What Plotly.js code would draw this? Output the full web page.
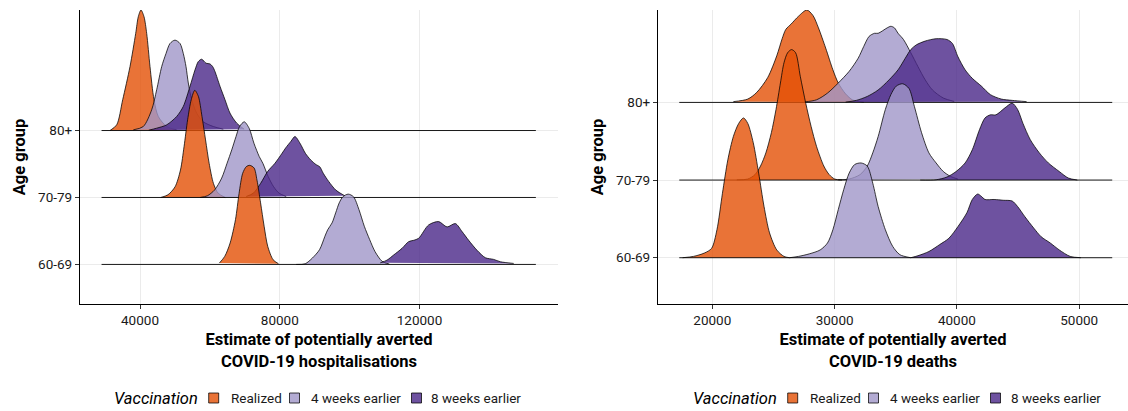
<!DOCTYPE html>
<html>
<head>
<meta charset="utf-8">
<script src="https://cdn.plot.ly/plotly-3.0.1.min.js"></script>
<style>
  html, body { margin: 0; padding: 0; background: #ffffff; }
  #chart { width: 1128px; height: 411px; }
</style>
</head>
<body>
<div id="chart"></div>
<script>
// ---------------- DATA ----------------
const ageGroups = ['60-69', '70-79', '80+'];
const scenarios = ['Realized', '4 weeks earlier', '8 weeks earlier'];
const legendTitle = 'Vaccination';

const hospTicks = [40000, 80000, 120000];
const deathTicks = [20000, 30000, 40000, 50000];

// full extent of every density line (x range of the ridges)
const hospRange = [29000, 153300];
const deathRange = [17300, 52700];

// ---- Hospitalisations: 80+ ----
const hosp80_realized_x = [31414, 33331, 35049, 37138, 38769, 39513, 40286, 41145, 41918, 42862, 44007, 45238, 47642, 50504];
const hosp80_realized_h = [0, 0.085, 0.46, 0.955, 1.45, 1.70, 1.80, 1.70, 1.45, 0.955, 0.46, 0.21, 0.06, 0.01];
const hosp80_4w_x = [38082, 40944, 43349, 44780, 46211, 47441, 48586, 50017, 51448, 52393, 53165, 53824, 54797, 56228, 58117, 60979, 63841];
const hosp80_4w_h = [0.01, 0.06, 0.31, 0.61, 0.955, 1.15, 1.30, 1.35, 1.30, 1.15, 0.955, 0.71, 0.46, 0.26, 0.13, 0.06, 0.02];
const hosp80_8w_x = [42500, 44780, 47640, 50500, 52390, 54310, 55740, 56690, 57660, 58890, 60030, 60800, 61465, 62900, 64330, 65760, 67680, 69800];
const hosp80_8w_h = [0.005, 0.035, 0.085, 0.21, 0.36, 0.66, 0.905, 1.03, 1.065, 1.005, 0.995, 0.955, 0.88, 0.66, 0.46, 0.26, 0.11, 0.02];

// ---- Hospitalisations: 70-79 ----
const hosp70_realized_x = [45940, 47990, 50040, 51580, 52610, 53630, 54660, 55680, 56710, 57740, 58760, 59790, 61020, 62350, 64400];
const hosp70_realized_h = [0, 0.04, 0.16, 0.41, 0.76, 1.16, 1.46, 1.60, 1.51, 1.21, 0.86, 0.51, 0.21, 0.065, 0];
const hosp70_4w_x = [57220, 59270, 61320, 63380, 64910, 66250, 67480, 68500, 69840, 71270, 72610, 74140, 75170, 76710, 78250, 79790, 81840];
const hosp70_4w_h = [0, 0.025, 0.11, 0.29, 0.51, 0.71, 0.91, 1.06, 1.13, 1.03, 0.81, 0.61, 0.51, 0.31, 0.16, 0.065, 0.015];
const hosp70_8w_x = [70410, 72460, 74510, 76560, 78610, 80660, 81690, 83220, 84350, 85790, 87330, 88870, 90410, 91430, 92460, 94000, 96050, 98610];
const hosp70_8w_h = [0.015, 0.065, 0.21, 0.39, 0.51, 0.66, 0.74, 0.84, 0.91, 0.81, 0.66, 0.56, 0.49, 0.46, 0.36, 0.24, 0.11, 0.025];

// ---- Hospitalisations: 60-69 ----
const hosp60_realized_x = [62710, 64250, 65790, 67330, 68350, 69380, 70410, 71430, 72660, 73480, 74510, 75530, 76560, 78100, 79640];
const hosp60_realized_h = [0.02, 0.12, 0.32, 0.67, 1.06, 1.36, 1.46, 1.48, 1.44, 1.26, 0.92, 0.57, 0.27, 0.07, 0.01];
const hosp60_4w_x = [84710, 87280, 89330, 91380, 92920, 93740, 94970, 96000, 97020, 98050, 99580, 101120, 102660, 104200, 105740, 107280, 109330, 111380];
const hosp60_4w_h = [0, 0.01, 0.095, 0.22, 0.42, 0.52, 0.62, 0.77, 0.92, 1.01, 1.05, 1.01, 0.82, 0.57, 0.37, 0.19, 0.045, 0.005];
const hosp60_8w_x = [108770, 110690, 112580, 114990, 116880, 118310, 119740, 122610, 125470, 127880, 130260, 132180, 134070, 136480, 138850, 141230, 143150, 146960];
const hosp60_8w_h = [0.024, 0.064, 0.14, 0.24, 0.34, 0.36, 0.39, 0.59, 0.64, 0.56, 0.61, 0.49, 0.36, 0.21, 0.10, 0.075, 0.04, 0.015];

// ---- Deaths: 80+ ----
const death80_realized_x = [21720, 22900, 23640, 24530, 25270, 25710, 26010, 26450, 27050, 27730, 28230, 28680, 29270, 29860, 30300, 30900, 31490, 32380];
const death80_realized_h = [0.01, 0.043, 0.13, 0.32, 0.60, 0.82, 0.94, 1.01, 1.11, 1.19, 1.12, 0.96, 0.70, 0.42, 0.25, 0.11, 0.03, 0.004];
const death80_4w_x = [27500, 28530, 29420, 30300, 31190, 31930, 32380, 32820, 33260, 33560, 34300, 34600, 34890, 35190, 35630, 36230, 36820, 37410, 38000, 38890, 39780];
const death80_4w_h = [0.005, 0.034, 0.12, 0.25, 0.40, 0.57, 0.72, 0.85, 0.89, 0.89, 0.96, 0.98, 0.96, 0.89, 0.81, 0.64, 0.46, 0.29, 0.16, 0.056, 0.013];
const death80_8w_x = [30900, 31780, 32670, 33560, 34450, 35190, 35780, 36230, 36670, 37410, 38300, 39190, 39630, 40080, 40670, 41260, 42000, 42740, 43630, 44520, 45700];
const death80_8w_h = [0.004, 0.026, 0.077, 0.16, 0.29, 0.42, 0.57, 0.68, 0.74, 0.79, 0.82, 0.81, 0.76, 0.59, 0.42, 0.31, 0.21, 0.10, 0.043, 0.026, 0.01];

// ---- Deaths: 70-79 ----
const death70_realized_x = [22000, 22900, 23490, 23940, 24380, 24830, 25210, 25570, 25860, 26160, 26480, 26810, 27200, 27640, 28080, 28530, 29120, 29560, 30010, 30600];
const death70_realized_h = [0.003, 0.013, 0.07, 0.18, 0.35, 0.61, 0.91, 1.25, 1.51, 1.64, 1.68, 1.64, 1.33, 0.99, 0.69, 0.43, 0.18, 0.07, 0.013, 0];
const death70_4w_x = [30300, 31190, 32080, 32670, 33120, 33560, 34150, 34600, 35040, 35570, 36080, 36520, 37110, 37710, 38300, 38890, 39480, 40080];
const death70_4w_h = [0.003, 0.013, 0.07, 0.18, 0.35, 0.56, 0.91, 1.10, 1.21, 1.24, 1.18, 0.95, 0.61, 0.35, 0.22, 0.11, 0.047, 0.013];
const death70_8w_x = [37000, 38300, 39190, 39930, 40670, 41260, 41850, 42300, 42740, 43190, 43930, 44520, 44960, 45400, 46000, 46740, 47480, 48370, 49110, 49850];
const death70_8w_h = [0, 0.004, 0.039, 0.11, 0.22, 0.39, 0.65, 0.80, 0.84, 0.84, 0.93, 0.99, 0.91, 0.73, 0.52, 0.35, 0.22, 0.11, 0.026, 0];

// ---- Deaths: 60-69 ----
const death60_realized_x = [17570, 18460, 19350, 19940, 20380, 20830, 21270, 21720, 22160, 22550, 22900, 23350, 23790, 24230, 24680, 25270, 25860, 26310];
const death60_realized_h = [0, 0.017, 0.06, 0.12, 0.36, 0.83, 1.26, 1.56, 1.73, 1.80, 1.73, 1.48, 1.09, 0.66, 0.32, 0.10, 0.017, 0];
const death60_4w_x = [26310, 27050, 27940, 28820, 29420, 29860, 30300, 30750, 31190, 31640, 32170, 32670, 33120, 33560, 34150, 34750, 35340, 36230];
const death60_4w_h = [0, 0.017, 0.05, 0.10, 0.19, 0.36, 0.62, 0.88, 1.09, 1.20, 1.22, 1.18, 0.96, 0.66, 0.36, 0.146, 0.039, 0];
const death60_8w_x = [36230, 36820, 37710, 38600, 39340, 40080, 40820, 41260, 41700, 42000, 42300, 43040, 43780, 44520, 44960, 45550, 46290, 46890, 47630, 48370, 49260, 50140];
const death60_8w_h = [0, 0.026, 0.08, 0.17, 0.25, 0.40, 0.58, 0.75, 0.82, 0.79, 0.75, 0.75, 0.74, 0.73, 0.66, 0.53, 0.38, 0.27, 0.19, 0.10, 0.017, 0];

// ---------------- STYLE ----------------
const W = 1128, H = 411;
const M = {l: 0, r: 0, t: 10, b: 107};
const FONT = 'Roboto, "Open Sans", sans-serif';
const fillColors = ['rgba(227,80,5,0.8)', 'rgba(160,150,200,0.8)', 'rgba(74,39,136,0.8)'];

const panels = [
  {
    xa: 'x', ya: 'y', range: hospRange,
    rows: {
      '80+':   [[hosp80_realized_x, hosp80_realized_h], [hosp80_4w_x, hosp80_4w_h], [hosp80_8w_x, hosp80_8w_h]],
      '70-79': [[hosp70_realized_x, hosp70_realized_h], [hosp70_4w_x, hosp70_4w_h], [hosp70_8w_x, hosp70_8w_h]],
      '60-69': [[hosp60_realized_x, hosp60_realized_h], [hosp60_4w_x, hosp60_4w_h], [hosp60_8w_x, hosp60_8w_h]]
    }
  },
  {
    xa: 'x2', ya: 'y2', range: deathRange,
    rows: {
      '80+':   [[death80_realized_x, death80_realized_h], [death80_4w_x, death80_4w_h], [death80_8w_x, death80_8w_h]],
      '70-79': [[death70_realized_x, death70_realized_h], [death70_4w_x, death70_4w_h], [death70_8w_x, death70_8w_h]],
      '60-69': [[death60_realized_x, death60_realized_h], [death60_4w_x, death60_4w_h], [death60_8w_x, death60_8w_h]]
    }
  }
];

const traces = [];
panels.forEach(p => {
  ['80+', '70-79', '60-69'].forEach(g => {
    const base = ageGroups.indexOf(g) + 1;
    p.rows[g].forEach((cur, si) => {
      traces.push({
        type: 'scatter', mode: 'lines',
        x: cur[0], y: cur[1].map(v => base + v),
        xaxis: p.xa, yaxis: p.ya,
        fill: 'toself', fillcolor: fillColors[si],
        line: {color: '#000000', width: 0.75, shape: 'spline', smoothing: 0.8},
        name: scenarios[si] + ' ' + g, showlegend: false, hoverinfo: 'skip'
      });
    });
    // zero-density line of this row over the whole range
    traces.push({
      type: 'scatter', mode: 'lines',
      x: p.range, y: [base, base],
      xaxis: p.xa, yaxis: p.ya,
      line: {color: '#000000', width: 0.9},
      name: 'baseline ' + g, showlegend: false, hoverinfo: 'skip'
    });
  });
});

// pixel helpers (layout placement only)
const pw = W - M.l - M.r, ph = H - M.t - M.b;
const px2x = px => (px - M.l) / pw;
const px2y = py => (H - M.b - py) / ph;

const tickFont = {family: FONT, size: 13.5, color: '#1a1a1a'};
const titleFont = {family: FONT, size: 16.5, color: '#000000', weight: 700};

function xAxis(domain, range, ticks, title, anchor) {
  return {
    anchor: anchor, domain: domain, range: range, tickvals: ticks, ticktext: ticks.map(String),
    showline: true, linecolor: '#000000', linewidth: 1.1,
    ticks: 'outside', ticklen: 4, tickwidth: 1, tickcolor: '#333333',
    showgrid: true, gridcolor: '#ebebeb', gridwidth: 1, zeroline: false,
    tickfont: tickFont,
    title: {text: title, font: titleFont, standoff: 6}
  };
}
function yAxis(anchor, range) {
  return {
    anchor: anchor, domain: [0, 1], range: range,
    tickvals: [1, 2, 3], ticktext: ageGroups,
    showline: true, linecolor: '#000000', linewidth: 1.1,
    ticks: 'outside', ticklen: 4, tickwidth: 1, tickcolor: '#333333',
    showgrid: true, gridcolor: '#ebebeb', gridwidth: 1, zeroline: false,
    tickfont: tickFont,
    title: {text: 'Age group', font: titleFont, standoff: 8}
  };
}

// manual legends (one under each panel)
const shapes = [];
const annotations = [];
[0, 579].forEach(off => {
  annotations.push({
    xref: 'paper', yref: 'paper', x: px2x(112 + off), y: px2y(398),
    xanchor: 'left', yanchor: 'middle', showarrow: false,
    text: '<i>' + legendTitle + '</i>', font: {family: FONT, size: 16.5, color: '#000000'}
  });
  const keyX = [208.7, 289.5, 411.5];
  const labX = [228.5, 308.5, 429.5];
  scenarios.forEach((s, i) => {
    shapes.push({
      type: 'rect', xref: 'paper', yref: 'paper',
      x0: px2x(keyX[i] + off), x1: px2x(keyX[i] + 10 + off),
      y0: px2y(393), y1: px2y(403),
      fillcolor: fillColors[i], line: {color: '#000000', width: 0.75}
    });
    annotations.push({
      xref: 'paper', yref: 'paper', x: px2x(labX[i] + off), y: px2y(398),
      xanchor: 'left', yanchor: 'middle', showarrow: false,
      text: s, font: {family: FONT, size: 13.5, color: '#1a1a1a'}
    });
  });
});

const layout = {
  width: W, height: H, margin: M,
  paper_bgcolor: '#ffffff', plot_bgcolor: '#ffffff',
  showlegend: false,
  font: {family: FONT},
  xaxis: xAxis([px2x(80), px2x(558)], [22828, 159634], hospTicks, 'Estimate of potentially averted<br>COVID-19 hospitalisations', 'y'),
  yaxis: yAxis('x', [0.409, 4.80]),
  xaxis2: xAxis([px2x(658), 1], [15560, 53990], deathTicks, 'Estimate of potentially averted<br>COVID-19 deaths', 'y2'),
  yaxis2: yAxis('x2', [0.404, 4.19]),
  shapes: shapes,
  annotations: annotations
};

Plotly.newPlot('chart', traces, layout, {displayModeBar: false, staticPlot: true});
</script>
</body>
</html>
